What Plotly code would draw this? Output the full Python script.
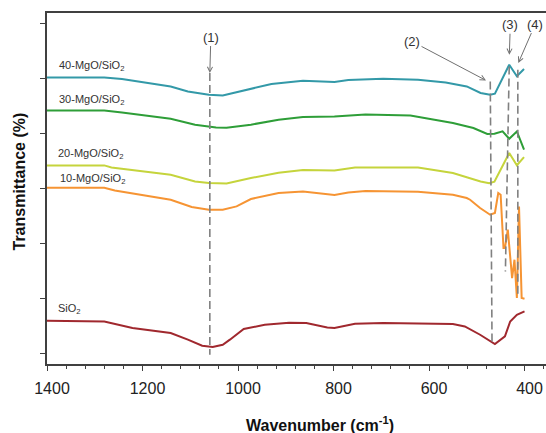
import plotly.graph_objects as go

# ---- data (wavenumber in cm^-1, transmittance in arbitrary offset units) ----
w_40 = [1400, 1280, 1243, 1141, 1105, 1061, 1032, 996, 930, 864, 842, 798, 769, 696, 623, 565, 521, 492, 472, 462, 432, 416, 401]
t_40 = [50.24, 50.24, 49.95, 48.60, 47.69, 47.09, 46.96, 47.69, 49.04, 49.64, 49.58, 49.40, 49.76, 50.00, 49.82, 49.33, 48.60, 47.40, 47.09, 47.27, 52.55, 50.45, 51.76]

w_30 = [1400, 1280, 1243, 1141, 1090, 1046, 1024, 973, 915, 864, 798, 733, 639, 550, 507, 478, 463, 446, 432, 416, 401]
t_30 = [44.24, 44.24, 43.87, 42.73, 41.64, 41.15, 41.09, 41.64, 42.55, 43.04, 43.15, 43.51, 43.33, 41.95, 41.04, 39.95, 40.00, 40.42, 39.09, 40.42, 37.09]

w_20 = [1400, 1280, 1265, 1141, 1090, 1061, 1024, 973, 915, 864, 798, 755, 623, 550, 492, 474, 463, 432, 416, 401]
t_20 = [34.24, 34.24, 33.87, 32.55, 31.33, 31.04, 30.96, 31.95, 32.91, 33.40, 33.33, 33.87, 33.87, 32.85, 31.33, 31.00, 31.27, 36.49, 34.27, 35.76]

w_10 = [1400, 1280, 1258, 1207, 1141, 1097, 1061, 1032, 1003, 973, 915, 864, 820, 798, 769, 733, 623, 550, 521, 514, 493, 472, 462, 455, 450, 444, 441, 435, 426, 421, 416, 411.5, 406, 400]
t_10 = [30.18, 30.18, 29.69, 28.91, 28.00, 26.67, 26.18, 26.18, 26.78, 28.13, 29.22, 29.51, 29.09, 28.87, 29.33, 29.58, 29.45, 28.91, 28.31, 28.00, 26.49, 25.27, 25.58, 29.22, 28.91, 19.22, 19.22, 22.55, 13.76, 17.09, 10.13, 26.78, 10.13, 10.00]

w_si = [1400, 1280, 1221, 1141, 1105, 1075, 1053, 1032, 1017, 988, 944, 893, 857, 813, 798, 755, 696, 550, 525, 493, 462, 441, 430, 416, 400]
t_si = [6.00, 5.87, 4.67, 3.76, 2.55, 1.45, 1.22, 1.64, 2.55, 4.49, 5.27, 5.64, 5.58, 4.78, 4.67, 5.45, 5.58, 5.40, 4.96, 3.45, 1.76, 3.15, 5.87, 7.09, 7.69]

series_names = ["40-MgO/SiO<sub>2</sub>", "30-MgO/SiO<sub>2</sub>", "20-MgO/SiO<sub>2</sub>", "10-MgO/SiO<sub>2</sub>", "SiO<sub>2</sub>"]
series_colors = ["#3399A8", "#2E9E38", "#C5D43C", "#F69433", "#A0282E"]
label_x = [1380, 1380, 1382, 1377, 1382]
label_y = [52.24, 46.18, 36.36, 31.82, 8.18]

# marker guide lines (dashed): (x0, y0, x1, y1)
guide_x0 = [1059, 471.7, 432, 414]
guide_y0 = [51.04, 49.51, 52.24, 51.64]
guide_x1 = [1059, 468, 440, 414]
guide_y1 = [-0.18, 1.64, 14.96, 10.18]

# arrow labels and their tips
arrow_text = ["(1)", "(2)", "(3)", "(4)"]
arrow_tip_x = [1059, 480.6, 431.8, 413]
arrow_tip_y = [51.04, 49.69, 54.36, 52.85]
arrow_ax = [1, -74, 1, 17]
arrow_ay = [-36, -39, -30, -39]

xs = [w_40, w_30, w_20, w_10, w_si]
ys = [t_40, t_30, t_20, t_10, t_si]

FONT = "Arial, Liberation Sans, sans-serif"

fig = go.Figure()
for x, y, n, c in zip(xs, ys, series_names, series_colors):
    fig.add_trace(go.Scatter(x=x, y=y, mode="lines", name=n,
                             line=dict(color=c, width=2), showlegend=False))

for x0, y0, x1, y1 in zip(guide_x0, guide_y0, guide_x1, guide_y1):
    fig.add_shape(type="line", xref="x", yref="y", x0=x0, y0=y0, x1=x1, y1=y1,
                  line=dict(color="#808080", width=1.6, dash="8px,4px"))

annotations = []
for n, lx, ly in zip(series_names, label_x, label_y):
    annotations.append(dict(x=lx, y=ly, xref="x", yref="y", text=n, showarrow=False,
                            xanchor="left", yanchor="middle",
                            font=dict(family=FONT, size=11, color="#333333")))

for t, tx, ty, ax, ay in zip(arrow_text, arrow_tip_x, arrow_tip_y, arrow_ax, arrow_ay):
    annotations.append(dict(x=tx, y=ty, xref="x", yref="y", text=t, showarrow=True,
                            ax=ax, ay=ay, arrowhead=5, arrowsize=1, arrowwidth=1,
                            arrowcolor="#707070", standoff=0,
                            font=dict(family=FONT, size=13, color="#333333")))

annotations.append(dict(x=(320 - 47) / 499, y=(364 - 424) / 351, xref="paper", yref="paper",
                        text="<b>Wavenumber (cm<sup>-1</sup>)</b>", showarrow=False,
                        xanchor="center", yanchor="middle",
                        font=dict(family=FONT, size=16, color="#111111")))
annotations.append(dict(x=(18.5 - 47) / 499, y=(364 - 182) / 351, xref="paper", yref="paper",
                        text="<b>Transmittance (%)</b>", showarrow=False, textangle=-90,
                        xanchor="center", yanchor="middle",
                        font=dict(family=FONT, size=16, color="#111111")))

fig.update_layout(
    width=546, height=433,
    margin=dict(l=47, r=0, t=13, b=69),
    paper_bgcolor="white", plot_bgcolor="white",
    annotations=annotations,
    font=dict(family=FONT),
)
fig.update_xaxes(range=[1400, 355], showgrid=False, zeroline=False,
                 showline=True, linecolor="#404040", linewidth=1.5, mirror=True,
                 ticks="outside", ticklen=5, tickwidth=1.2, tickcolor="#404040",
                 tickvals=[1400, 1200, 1000, 800, 600, 400],
                 tickfont=dict(family=FONT, size=16, color="#222222"),
                 ticklabelshift=-5, ticklabelstandoff=4,
                 minor=dict(ticks="outside", ticklen=3, tickwidth=1, tickcolor="#404040", dtick=40, tick0=400))
fig.update_yaxes(range=[-1.87, 61.95], showgrid=False, zeroline=False,
                 showline=True, linecolor="#404040", linewidth=1.5, mirror=False,
                 ticks="outside", ticklen=5, tickwidth=1.2, tickcolor="#404040",
                 tickvals=[0, 10, 20, 30, 40, 50, 60], showticklabels=False)

fig.write_html("out.html")
